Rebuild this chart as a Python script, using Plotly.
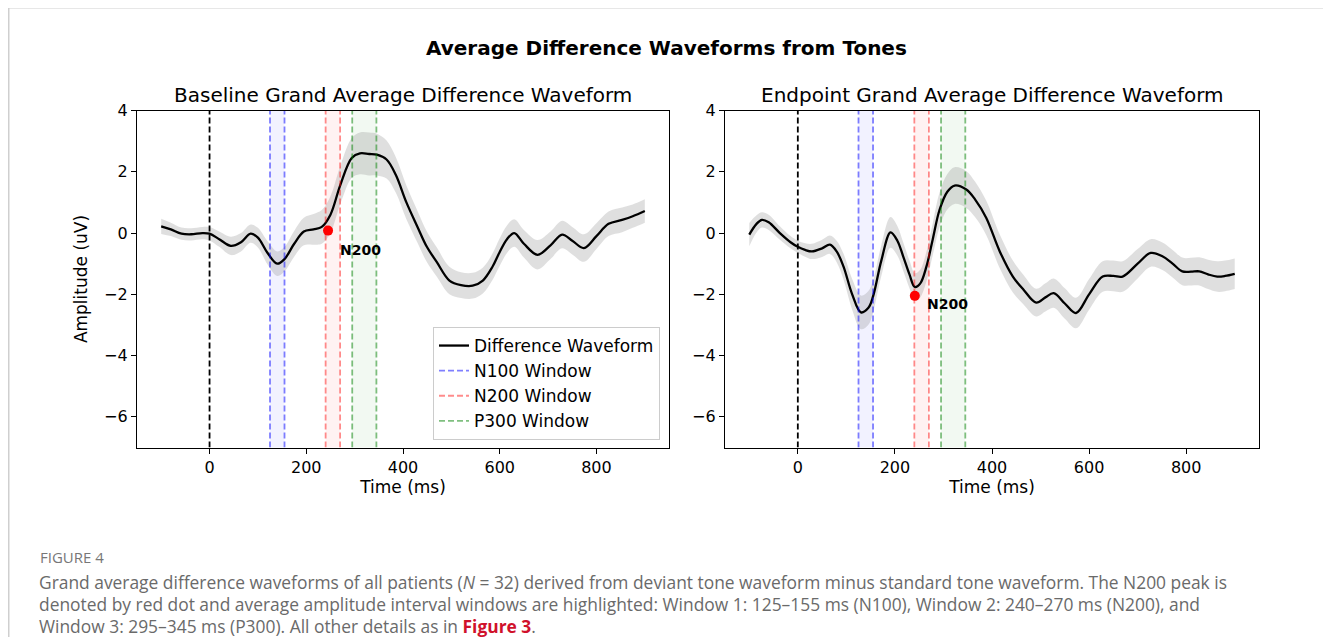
import plotly.graph_objects as go

# ---------------- data ----------------
base_t = [-100, -80, -58, -38, -15, 0, 20, 44, 65, 85, 100, 120, 140, 155, 175, 195, 215, 232,
          250, 270, 294, 311, 330, 346, 366, 385, 407, 430, 449, 470, 496, 520, 544, 565, 585,
          599, 615, 630, 650, 678, 705, 729, 750, 774, 800, 825, 853, 875, 900]
base_amp = [0.22, 0.12, -0.02, -0.04, 0.0, -0.02, -0.2, -0.42, -0.3, -0.02, -0.15, -0.65, -1.0,
            -0.85, -0.35, 0.05, 0.12, 0.2, 0.6, 1.55, 2.45, 2.6, 2.58, 2.56, 2.4, 1.9, 1.0, 0.2,
            -0.44, -0.95, -1.55, -1.7, -1.72, -1.55, -1.1, -0.65, -0.2, 0.0, -0.35, -0.71, -0.4,
            -0.05, -0.25, -0.49, -0.1, 0.3, 0.43, 0.55, 0.72]
base_sem = [0.25, 0.22, 0.2, 0.2, 0.2, 0.22, 0.25, 0.3, 0.3, 0.3, 0.32, 0.38, 0.4, 0.4, 0.42,
            0.45, 0.5, 0.55, 0.6, 0.62, 0.65, 0.68, 0.7, 0.68, 0.62, 0.58, 0.55, 0.52, 0.5, 0.48,
            0.45, 0.42, 0.42, 0.42, 0.43, 0.45, 0.45, 0.45, 0.45, 0.48, 0.45, 0.45, 0.45, 0.45,
            0.42, 0.4, 0.4, 0.38, 0.38]

end_t = [-100, -85, -74, -60, -37, -15, 0, 15, 29, 50, 66, 80, 94, 112, 130, 145, 155, 172, 191,
         205, 217, 230, 241, 252, 265, 278, 292, 308, 323, 347, 365, 388, 416, 443, 465, 491, 510,
         527, 550, 573, 600, 628, 650, 669, 700, 727, 751, 772, 792, 810, 827, 845, 864, 880, 900]
end_amp = [-0.05, 0.3, 0.43, 0.35, 0.0, -0.3, -0.45, -0.55, -0.6, -0.5, -0.38, -0.6, -1.09, -2.0,
           -2.59, -2.45, -2.07, -0.9, 0.02, -0.25, -0.76, -1.35, -1.76, -1.65, -1.09, -0.2, 0.76,
           1.35, 1.55, 1.42, 1.1, 0.5, -0.6, -1.42, -1.85, -2.27, -2.1, -1.96, -2.3, -2.61, -2.0,
           -1.42, -1.4, -1.42, -1.0, -0.65, -0.76, -1.0, -1.25, -1.26, -1.25, -1.35, -1.42, -1.4,
           -1.33]
end_sem = [0.38, 0.28, 0.25, 0.25, 0.22, 0.2, 0.2, 0.22, 0.25, 0.28, 0.3, 0.35, 0.42, 0.5, 0.55,
           0.55, 0.52, 0.5, 0.5, 0.48, 0.46, 0.45, 0.45, 0.45, 0.48, 0.52, 0.56, 0.58, 0.6, 0.6,
           0.58, 0.56, 0.55, 0.52, 0.48, 0.45, 0.46, 0.48, 0.5, 0.5, 0.5, 0.5, 0.5, 0.5, 0.48,
           0.45, 0.45, 0.45, 0.45, 0.45, 0.46, 0.48, 0.5, 0.5, 0.5]

n200_peak_t = [245, 241]
n200_peak_amp = [0.08, -2.05]

windows = {"N100": (125, 155), "N200": (240, 270), "P300": (295, 345)}
window_line_colors = {"N100": "rgba(0,0,255,0.5)", "N200": "rgba(255,0,0,0.45)",
                      "P300": "rgba(0,128,0,0.5)"}
window_fill_colors = {"N100": "rgba(0,0,255,0.05)", "N200": "rgba(255,0,0,0.05)",
                      "P300": "rgba(0,128,0,0.05)"}

y_ticks = [4, 2, 0, -2, -4, -6]
x_ticks = [0, 200, 400, 600, 800]
y_range = [-7, 4]
x_range = [-150, 950]

panel_titles = ["Baseline Grand Average Difference Waveform",
                "Endpoint Grand Average Difference Waveform"]
main_title = "Average Difference Waveforms from Tones"

# ---------------- layout geometry (pixels of the reference) ----------------
OFF = 8            # page body margin
W, H = 1331 - OFF, 637 - OFF
def px(x):
    return (x - OFF) / W
def py(y):
    return 1 - (y - OFF) / H

FONT = "DejaVu Sans"
fig = go.Figure()

panels = [(base_t, base_amp, base_sem, "x", "y"), (end_t, end_amp, end_sem, "x2", "y2")]
for i, (t, a, s, xa, ya) in enumerate(panels):
    upper = [ai + si for ai, si in zip(a, s)]
    lower = [ai - si for ai, si in zip(a, s)]
    fig.add_trace(go.Scatter(x=t, y=upper, mode="lines", line=dict(width=0, shape="spline"),
                             showlegend=False, hoverinfo="skip", xaxis=xa, yaxis=ya))
    fig.add_trace(go.Scatter(x=t, y=lower, mode="lines", line=dict(width=0, shape="spline"),
                             fill="tonexty", fillcolor="rgba(128,128,128,0.25)",
                             showlegend=False, hoverinfo="skip", xaxis=xa, yaxis=ya))
    for k, (w0, w1) in windows.items():
        fig.add_shape(type="rect", xref=xa, yref=f"{ya} domain", x0=w0, x1=w1, y0=0, y1=1,
                      fillcolor=window_fill_colors[k], line=dict(width=0), layer="below")
    fig.add_trace(go.Scatter(x=[0, 0], y=y_range, mode="lines",
                             line=dict(color="black", width=1.8, dash="6px,3px"),
                             showlegend=False, hoverinfo="skip", xaxis=xa, yaxis=ya))
    fig.add_trace(go.Scatter(x=t, y=a, mode="lines", name="Difference Waveform",
                             line=dict(color="black", width=2.3, shape="spline"),
                             showlegend=(i == 0), xaxis=xa, yaxis=ya))
    for k, (w0, w1) in windows.items():
        fig.add_trace(go.Scatter(x=[w0, w0, None, w1, w1],
                                 y=[y_range[0], y_range[1], None, y_range[0], y_range[1]],
                                 mode="lines", name=f"{k} Window",
                                 line=dict(color=window_line_colors[k], width=1.8, dash="6px,3px"),
                                 showlegend=(i == 0), hoverinfo="skip", xaxis=xa, yaxis=ya))
    fig.add_trace(go.Scatter(x=[n200_peak_t[i]], y=[n200_peak_amp[i]], mode="markers",
                             marker=dict(color="red", size=10), showlegend=False,
                             xaxis=xa, yaxis=ya))

axis_common = dict(showline=True, mirror=True, linecolor="black", linewidth=1.2,
                   ticks="outside", ticklen=5, tickwidth=1.2, tickcolor="black",
                   showgrid=False, zeroline=False, automargin=False,
                   tickfont=dict(family=FONT, size=16, color="black"))
title_font = dict(family=FONT, size=17, color="black")

fig.update_layout(
    width=W, height=H, margin=dict(l=0, r=0, t=0, b=0),
    paper_bgcolor="white", plot_bgcolor="white",
    xaxis=dict(domain=[px(137), px(669)], range=x_range, tickvals=x_ticks, anchor="y",
               title=dict(text="Time (ms)", font=title_font, standoff=5), **axis_common),
    yaxis=dict(domain=[py(447.5), py(110.5)], range=y_range, tickvals=y_ticks, anchor="x",
               title=dict(text="Amplitude (uV)", font=title_font, standoff=12), **axis_common),
    xaxis2=dict(domain=[px(725), px(1259)], range=x_range, tickvals=x_ticks, anchor="y2",
                title=dict(text="Time (ms)", font=title_font, standoff=5), **axis_common),
    yaxis2=dict(domain=[py(447.5), py(110.5)], range=y_range, tickvals=y_ticks, anchor="x2",
                **axis_common),
    legend=dict(x=px(660), y=py(440), xanchor="right", yanchor="bottom", traceorder="normal",
                bgcolor="rgba(255,255,255,0.8)", bordercolor="#cccccc", borderwidth=1,
                font=dict(family=FONT, size=17, color="black"), tracegroupgap=0),
    showlegend=True,
)

ann = []
ann.append(dict(text=f"<b>{main_title}</b>", x=px(666), y=py(48), xref="paper", yref="paper",
                showarrow=False, font=dict(family=FONT, size=20, color="black"),
                xanchor="center", yanchor="middle"))
for xc, title in zip([403, 992], panel_titles):
    ann.append(dict(text=title, x=px(xc), y=py(95), xref="paper", yref="paper",
                    showarrow=False, font=dict(family=FONT, size=20, color="black"),
                    xanchor="center", yanchor="middle"))
for i, (xa, ya, dy) in enumerate([("x", "y", -19), ("x2", "y2", -8)]):
    ann.append(dict(text="<b>N200</b>", x=n200_peak_t[i], y=n200_peak_amp[i], xref=xa, yref=ya,
                    showarrow=False, xanchor="left", yanchor="middle", xshift=10, yshift=dy,
                    font=dict(family=FONT, size=14, color="black")))

CAP = "Open Sans"
cap_color = "#6a6a6a"
ann.append(dict(text="FIGURE 4", x=px(38), y=py(557), xref="paper", yref="paper",
                showarrow=False, xanchor="left", yanchor="middle",
                font=dict(family=CAP, size=15, color="#777777")))
cap_lines = [
    "Grand average difference waveforms of all patients (<i>N</i> = 32) derived from deviant tone waveform minus standard tone waveform. The N200 peak is",
    "denoted by red dot and average amplitude interval windows are highlighted: Window 1: 125\u2013155 ms (N100), Window 2: 240\u2013270 ms (N200), and",
    "Window 3: 295\u2013345 ms (P300). All other details as in <b><span style='color:#d0112b'>Figure 3</span></b>.",
]
for yy, line in zip([582, 604, 626], cap_lines):
    ann.append(dict(text=line, x=px(37), y=py(yy), xref="paper", yref="paper",
                    showarrow=False, xanchor="left", yanchor="middle",
                    font=dict(family=CAP, size=17.4, color=cap_color)))
fig.update_layout(annotations=ann)

# outer frame of the figure box
fig.add_shape(type="line", xref="paper", yref="paper", x0=px(8), x1=1, y0=py(7.5), y1=py(7.5),
              line=dict(color="#cfcfcf", width=2))
fig.add_shape(type="line", xref="paper", yref="paper", x0=px(8.5), x1=px(8.5), y0=0, y1=py(7.5),
              line=dict(color="#cfcfcf", width=2))

fig.write_html("out.html")
